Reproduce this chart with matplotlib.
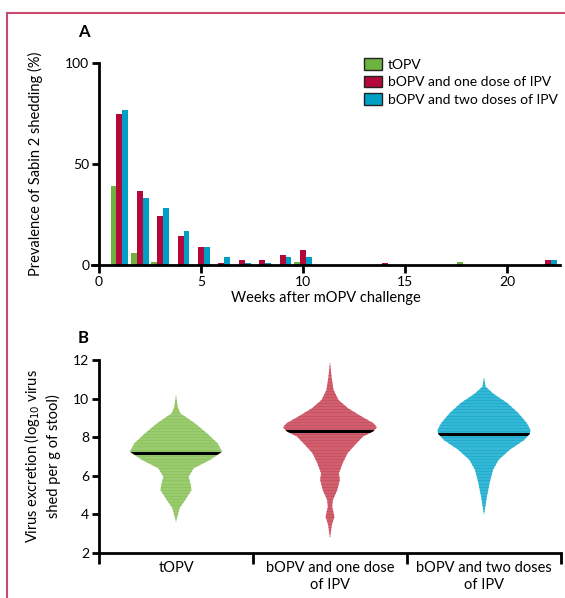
import matplotlib.pyplot as plt
import numpy as np
from matplotlib.patches import Polygon, Rectangle
from matplotlib.lines import Line2D

plt.rcParams['font.family'] = ['Lato', 'DejaVu Sans']

# Panel A: weekly prevalence of Sabin 2 shedding (%)
weeks = [1, 2, 3, 4, 5, 6, 7, 8, 9, 10, 14, 18, 22]
topv = [39.0, 6.1, 1.7, 0, 0, 0, 0, 0, 0, 1.7, 0, 1.7, 0]
bopv_one = [74.8, 36.6, 24.3, 14.4, 8.9, 1.1, 2.5, 2.5, 5.0, 7.4, 1.1, 0, 2.5]
bopv_two = [76.7, 33.2, 28.2, 16.8, 8.9, 4.0, 1.1, 1.1, 4.0, 4.0, 0, 0, 2.5]
series_names = ['tOPV', 'bOPV and one dose of IPV', 'bOPV and two doses of IPV']

# Panel B: violin outlines (log10 value, half width in category units)
groups = ['tOPV', 'bOPV and one dose\nof IPV', 'bOPV and two doses\nof IPV']
topv_y = [10.2, 9.58, 9.24, 8.72, 8.2, 7.68, 7.25, 6.82, 6.39, 5.95, 5.6, 5.26, 4.75, 4.33, 3.6]
topv_w = [0, 0.011, 0.028, 0.123, 0.201, 0.271, 0.299, 0.221, 0.115, 0.082, 0.094, 0.101, 0.060, 0.024, 0]
one_y = [11.9, 11.13, 10.45, 9.93, 9.5, 9.06, 8.72, 8.51, 8.3, 8.03, 7.6, 7.17, 6.65, 6.13, 5.78,
         5.26, 4.75, 4.4, 3.88, 3.45, 2.76]
one_w = [0, 0.010, 0.023, 0.055, 0.117, 0.208, 0.283, 0.305, 0.28, 0.214, 0.162, 0.114, 0.082, 0.058,
         0.064, 0.047, 0.019, 0.014, 0.029, 0.012, 0]
two_y = [11.1, 10.62, 10.27, 9.76, 9.24, 8.72, 8.37, 8.17, 7.85, 7.34, 6.82, 6.3, 5.61, 4.92, 3.97]
two_w = [0, 0.010, 0.058, 0.153, 0.224, 0.279, 0.302, 0.297, 0.260, 0.166, 0.094, 0.058, 0.036, 0.019, 0]
medians = [7.2, 8.3, 8.15]

bar_colors = ['#6db33f', '#b5083a', '#00a0c6']
violin_base = ['#9ccc70', '#d2606f', '#35b9d6']
violin_stripe = ['#8cc25f', '#c44f62', '#1eaacb']

fig = plt.figure(figsize=(5.65, 5.98), dpi=100)

# page border
fig.add_artist(Line2D([7 / 565, 7 / 565], [0, 1 - 13 / 598], color='#c9496d', lw=1.5))
fig.add_artist(Line2D([7 / 565, 1], [1 - 13 / 598, 1 - 13 / 598], color='#c9496d', lw=1.5))

# ---- Panel A ----
ax = fig.add_axes([91.9 / 565, 333 / 598, 468.1 / 565, 202 / 598])
x = np.array(weeks)
w = 0.29
for i, vals in enumerate([topv, bopv_one, bopv_two]):
    ax.bar(x + (i - 1) * w, vals, w, color=bar_colors[i], label=series_names[i])
ax.set_xlim(-0.35, 22.6)
ax.set_ylim(0, 100)
ax.spines['left'].set_position(('data', 0))
ax.spines['left'].set_bounds(0, 100)
for s in ['top', 'right']:
    ax.spines[s].set_visible(False)
for s in ['left', 'bottom']:
    ax.spines[s].set_linewidth(2)
ax.set_xticks([0, 5, 10, 15, 20])
ax.set_yticks([0, 50, 100])
ax.tick_params(width=2, length=5, labelsize=10, pad=2)
ax.tick_params(axis='x', length=6)
ax.set_xlabel('Weeks after mOPV challenge', fontsize=10.5, labelpad=2)
ax.set_ylabel('Prevalence of Sabin 2 shedding (%)', fontsize=10.5, labelpad=16)
handles = [Rectangle((0, 0), 1, 1, facecolor=c, edgecolor='#222222', lw=1) for c in bar_colors]
ax.legend(handles, series_names, loc='upper left', bbox_to_anchor=(0.57, 1.05), frameon=False,
          fontsize=10, handlelength=1.3, handleheight=0.9, handletextpad=0.4, labelspacing=0.35,
          borderaxespad=0)
fig.text(78 / 565, 1 - 32 / 598, 'A', fontsize=12, fontweight='bold', va='center')

# ---- Panel B ----
bx = fig.add_axes([99 / 565, 45 / 598, 462 / 565, 193 / 598])
bx.set_xlim(-0.5, 2.5)
bx.set_ylim(2, 12)
profiles = [(topv_y, topv_w), (one_y, one_w), (two_y, two_w)]
for i, (ys, ws) in enumerate(profiles):
    ys = np.array(ys)
    ws = np.array(ws)
    verts = np.column_stack([np.concatenate([i + ws, (i - ws)[::-1]]),
                             np.concatenate([ys, ys[::-1]])])
    poly = Polygon(verts, closed=True, facecolor=violin_base[i], edgecolor='none')
    bx.add_patch(poly)
    # thin horizontal stripes like the original rendering
    for k, yy in enumerate(np.arange(2.0, 12.0, 0.08)):
        if k % 2:
            ln = bx.plot([i - 0.4, i + 0.4], [yy, yy], color=violin_stripe[i], lw=0.8, alpha=0.8)[0]
            ln.set_clip_path(poly)
    med = bx.plot([i - 0.4, i + 0.4], [medians[i], medians[i]], color='black', lw=2.2)[0]
    med.set_clip_path(poly)

for s in ['top', 'right']:
    bx.spines[s].set_visible(False)
for s in ['left', 'bottom']:
    bx.spines[s].set_linewidth(2)
bx.set_yticks([2, 4, 6, 8, 10, 12])
bx.set_xticks([-0.5, 0.5, 1.5, 2.5])
bx.set_xticklabels([])
bx.set_xticks([0, 1, 2], minor=True)
bx.set_xticklabels(groups, minor=True, fontsize=10.5, linespacing=1.25)
bx.tick_params(axis='x', which='major', width=2, length=8)
bx.tick_params(axis='x', which='minor', length=0, pad=6)
bx.tick_params(axis='y', width=2, length=5, labelsize=10, pad=2)
bx.set_ylabel('Virus excretion (log$_{10}$ virus\nshed per g of stool)', fontsize=10.5,
              labelpad=9, linespacing=1.25)
fig.text(78 / 565, 1 - 338 / 598, 'B', fontsize=12, fontweight='bold', va='center')

plt.savefig('out.png', dpi=100)
